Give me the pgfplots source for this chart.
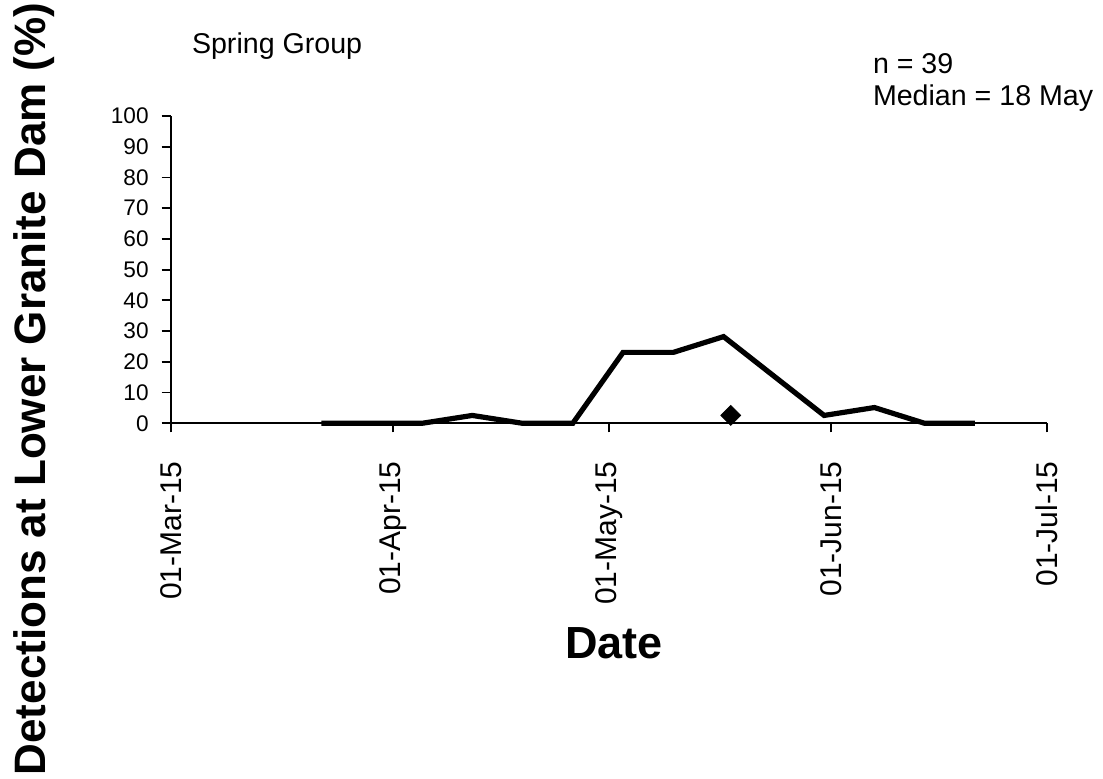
\documentclass[border=0pt]{standalone}
\usepackage{fontspec}
\setmainfont{Liberation Sans}
\usepackage{pgfplots}
\pgfplotsset{compat=1.18}
\begin{document}
\begin{tikzpicture}
\useasboundingbox (0,0) rectangle (551.5pt,389pt);
\begin{axis}[
  at={(85.35pt,177.35pt)}, anchor=south west,
  scale only axis, width=438pt, height=153.65pt,
  xmin=0, xmax=122, ymin=0, ymax=100,
  axis x line=bottom, axis y line=left,
  axis line style={-, line width=0.9pt},
  xtick={0,31,61,92,122},
  xticklabels={01-Mar-15,01-Apr-15,01-May-15,01-Jun-15,01-Jul-15},
  ytick={0,10,...,100},
  minor tick num=0,
  tick align=outside, major tick length=4.5pt,
  tick style={black, line width=0.9pt},
  xticklabel style={rotate=90, anchor=east, font=\fontsize{15}{17}\selectfont},
  xticklabel shift=11pt,
  yticklabel style={font=\fontsize{11.3}{13}\selectfont},
  yticklabel shift=3pt,
  /pgf/number format/assume math mode=true,
  clip=false,
]
\addplot[black, line width=2.6pt] coordinates {
(21,0) (28,0) (35,0) (42,2.56) (49,0) (56,0) (63,23.08) (70,23.08)
(77,28.21) (84,15.38) (91,2.56) (98,5.13) (105,0) (112,0)
};
\addplot[only marks, mark=square*, mark size=3.5pt, mark options={rotate=45, fill=black, draw=black}] coordinates {(78,2.56)};
\end{axis}
\node[anchor=base west, font=\fontsize{14.3}{16}\selectfont, inner sep=0pt] at (95.8pt,362pt) {Spring Group};
\node[anchor=base west, font=\fontsize{14.3}{16}\selectfont, inner sep=0pt] at (436.3pt,352pt) {n = 39};
\node[anchor=base west, font=\fontsize{14.3}{16}\selectfont, inner sep=0pt] at (436.3pt,336pt) {Median = 18 May};
\node[anchor=base, font=\bfseries\fontsize{22.5}{26}\selectfont, inner sep=0pt] at (307pt,60pt) {Date};
\node[anchor=base, rotate=90, font=\bfseries\fontsize{22}{26}\selectfont, inner sep=0pt] at (22.5pt,194.5pt) {Detections at Lower Granite Dam (\%)};
\end{tikzpicture}
\end{document}
